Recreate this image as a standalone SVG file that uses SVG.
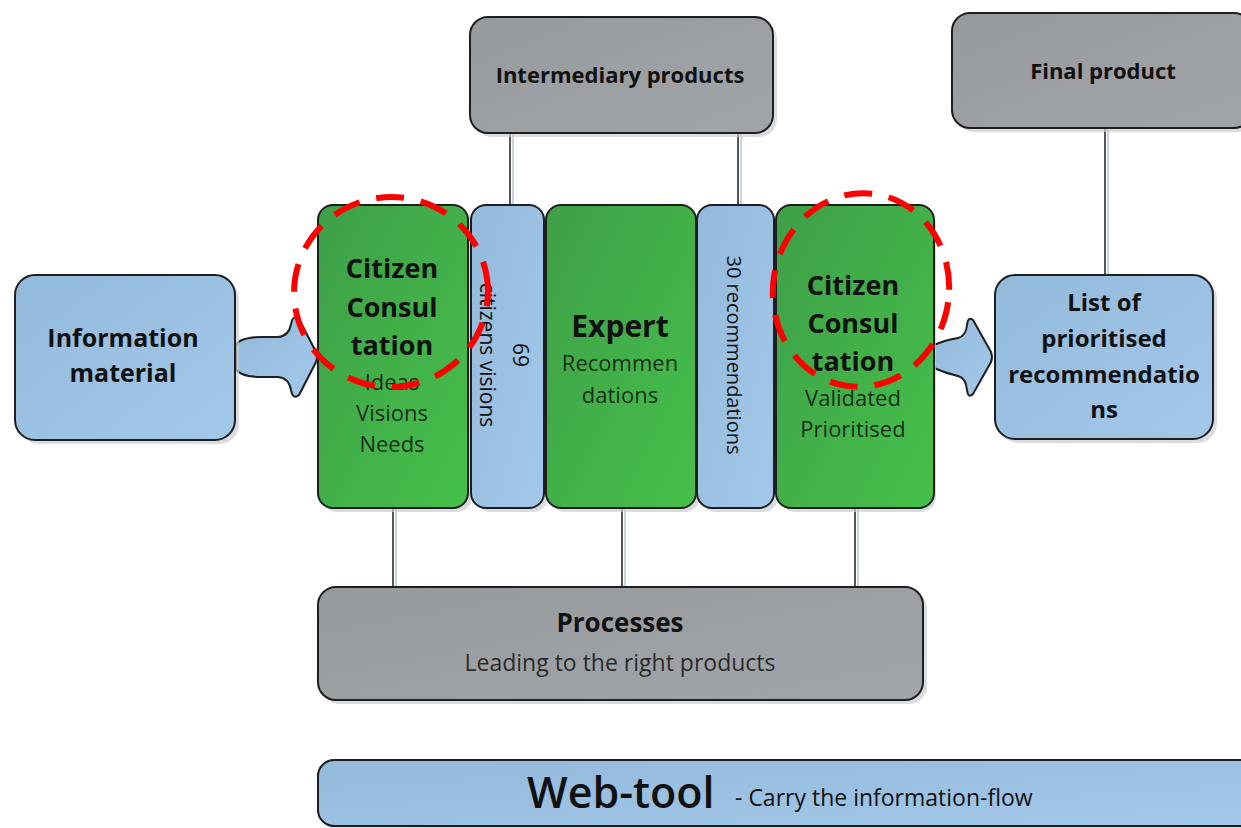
<svg xmlns="http://www.w3.org/2000/svg" width="1241" height="828" viewBox="0 0 1241 828">
<defs>
<linearGradient id="gBlue" x1="0" y1="0" x2="1" y2="1"><stop offset="0" stop-color="#93b9db"/><stop offset="1" stop-color="#a3c8ea"/></linearGradient>
<linearGradient id="gGreen" x1="0" y1="0" x2="1" y2="1"><stop offset="0" stop-color="#3f9f48"/><stop offset="1" stop-color="#45c04a"/></linearGradient>
<linearGradient id="gGray" x1="0" y1="0" x2="1" y2="1"><stop offset="0" stop-color="#979a9d"/><stop offset="1" stop-color="#a1a5a9"/></linearGradient>
<style>
.blue{fill:url(#gBlue);stroke:#1e1e1e;stroke-width:2}
.green{fill:url(#gGreen);stroke:#1e1e1e;stroke-width:2}
.gray{fill:url(#gGray);stroke:#1e1e1e;stroke-width:2}
.sh{fill:#c9ced3;opacity:0.7}
.t{font-family:"Open Sans","Noto Sans",sans-serif;fill:#111;text-anchor:middle}
.b{font-weight:bold}
.link{stroke:#1e1e1e;stroke-width:1.5;fill:none}
.linksh{stroke:#b9c8d4;stroke-width:1.5;fill:none}
.red{fill:none;stroke:#ff0000;stroke-width:6;stroke-dasharray:28 17}
</style>
</defs>
<rect width="1241" height="828" fill="#ffffff"/>

<g id="connectors">
<line class="linksh" x1="513" y1="133" x2="513" y2="206"/>
<line class="link" x1="510" y1="133" x2="510" y2="206"/>
<line class="linksh" x1="741" y1="133" x2="741" y2="206"/>
<line class="link" x1="738" y1="133" x2="738" y2="206"/>
<line class="linksh" x1="1108" y1="128" x2="1108" y2="276"/>
<line class="link" x1="1105" y1="128" x2="1105" y2="276"/>
<line class="linksh" x1="396" y1="508" x2="396" y2="588"/>
<line class="link" x1="393" y1="508" x2="393" y2="588"/>
<line class="linksh" x1="625" y1="508" x2="625" y2="588"/>
<line class="link" x1="622" y1="508" x2="622" y2="588"/>
<line class="linksh" x1="858" y1="508" x2="858" y2="588"/>
<line class="link" x1="855" y1="508" x2="855" y2="588"/>
<path class="blue" d="M236,345 Q240,337 262,337 L278,337 Q289,336 291,324 Q293,314 299,319 L316,352 Q318,357 316,362 L299,395 Q293,400 291,390 Q289,378 278,377 L262,377 Q240,377 236,369 Z"/>
<path class="blue" d="M934,345 Q945,340 958,338 Q966,336 967,325 Q968,316 973,320 L991,352 Q993,357 991,362 L973,394 Q968,399 967,390 Q966,378 958,376 Q945,373 934,368 Z"/>
</g>

<g id="intermediary">
<rect class="sh" x="474" y="21" width="303" height="116" rx="18"/>
<rect class="gray" x="470" y="17" width="303" height="116" rx="18"/>
<text class="t b" x="620" y="83" font-size="22">Intermediary products</text>
</g>

<g id="final">
<rect class="sh" x="956" y="17" width="300" height="115" rx="18"/>
<rect class="gray" x="952" y="13" width="300" height="115" rx="18"/>
<text class="t b" x="1103" y="79" font-size="22">Final product</text>
</g>

<g id="information">
<rect class="sh" x="19" y="279" width="220" height="165" rx="20"/>
<rect class="blue" x="15" y="275" width="220" height="165" rx="20"/>
<text class="t b" x="123" y="347" font-size="25">Information</text>
<text class="t b" x="123" y="382" font-size="25">material</text>
</g>

<g id="citizen1">
<rect class="sh" x="322" y="209" width="150" height="303" rx="15"/>
<rect class="green" x="318" y="205" width="150" height="303" rx="15"/>
<text class="t b" x="392" y="278" font-size="27">Citizen</text>
<text class="t b" x="392" y="317" font-size="27">Consul</text>
<text class="t b" x="392" y="355" font-size="27">tation</text>
<text class="t" x="392" y="390" font-size="22" fill-opacity="0.85">Ideas</text>
<text class="t" x="392" y="421" font-size="22" fill-opacity="0.85">Visions</text>
<text class="t" x="392" y="452" font-size="22" fill-opacity="0.85">Needs</text>
</g>

<g id="strip69">
<rect class="sh" x="475" y="209" width="73" height="303" rx="15"/>
<rect class="blue" x="471" y="205" width="73" height="303" rx="15"/>
<text class="t" font-size="21" transform="translate(521,355) rotate(90)" dominant-baseline="central">69</text>
<text class="t" font-size="21" transform="translate(488,355) rotate(90)" dominant-baseline="central">citizens visions</text>
</g>

<g id="expert">
<rect class="sh" x="550" y="209" width="150" height="303" rx="15"/>
<rect class="green" x="546" y="205" width="150" height="303" rx="15"/>
<text class="t b" x="620" y="337" font-size="30">Expert</text>
<text class="t" x="620" y="371" font-size="22" fill-opacity="0.85">Recommen</text>
<text class="t" x="620" y="403" font-size="22" fill-opacity="0.85">dations</text>
</g>

<g id="strip30">
<rect class="sh" x="701" y="209" width="77" height="303" rx="15"/>
<rect class="blue" x="697" y="205" width="77" height="303" rx="15"/>
<text class="t" font-size="20" transform="translate(734,355) rotate(90)" dominant-baseline="central">30 recommendations</text>
</g>

<g id="citizen2">
<rect class="sh" x="780" y="209" width="156" height="303" rx="15"/>
<rect class="green" x="776" y="205" width="158" height="303" rx="15"/>
<text class="t b" x="853" y="295" font-size="27">Citizen</text>
<text class="t b" x="853" y="333" font-size="27">Consul</text>
<text class="t b" x="853" y="371" font-size="27">tation</text>
<text class="t" x="853" y="406" font-size="22" fill-opacity="0.85">Validated</text>
<text class="t" x="853" y="437" font-size="22" fill-opacity="0.85">Prioritised</text>
</g>

<g id="list">
<rect class="sh" x="999" y="279" width="218" height="164" rx="20"/>
<rect class="blue" x="995" y="275" width="218" height="164" rx="20"/>
<text class="t b" x="1104" y="311" font-size="24">List of</text>
<text class="t b" x="1104" y="347" font-size="24">prioritised</text>
<text class="t b" x="1104" y="383" font-size="24">recommendatio</text>
<text class="t b" x="1104" y="418" font-size="24">ns</text>
</g>

<g id="processes">
<rect class="sh" x="322" y="591" width="605" height="113" rx="18"/>
<rect class="gray" x="318" y="587" width="605" height="113" rx="18"/>
<text class="t b" x="620" y="632" font-size="26">Processes</text>
<text class="t" x="620" y="671" font-size="23" fill-opacity="0.85">Leading to the right products</text>
</g>

<g id="webtool">
<rect class="sh" x="322" y="764" width="940" height="66" rx="16"/>
<rect class="blue" x="318" y="760" width="940" height="66" rx="16"/>
<text x="527" y="808" font-family="Open Sans, sans-serif" font-size="43" font-weight="600" fill="#111">Web-tool</text>
<text x="735" y="806" font-family="Open Sans, sans-serif" font-size="23" fill="#111">- Carry the information-flow</text>
</g>

<g id="highlights">
<ellipse class="red" cx="391" cy="292" rx="97" ry="95" transform="rotate(-8 391 292)"/>
<ellipse class="red" cx="861" cy="290" rx="88" ry="97" transform="rotate(8 861 290)"/>
</g>
</svg>
